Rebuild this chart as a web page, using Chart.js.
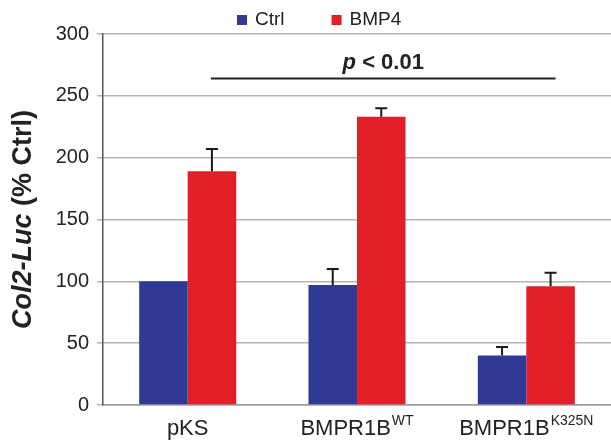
<!DOCTYPE html>
<html>
<head>
<meta charset="utf-8">
<script src="https://cdn.jsdelivr.net/npm/chart.js@4.4.1/dist/chart.umd.min.js"></script>
<style>
  html, body { margin: 0; padding: 0; background: #fff; }
  #wrap { width: 611px; height: 441px; position: relative; }
</style>
</head>
<body>
<div id="wrap"><canvas id="luc"></canvas></div>
<script>
// values (% of pKS control)
const groups = ['pKS', 'BMPR1B', 'BMPR1B'];
const groupSup = ['', 'WT', 'K325N'];
const ctrl = [100, 97, 40];
const ctrlErr = [0, 13, 7];
const bmp4 = [189, 233, 96];
const bmp4Err = [18, 7, 11];
const yTicks = [0, 50, 100, 150, 200, 250, 300];
const pLevel = 264;   // bracket height
const pTextLevel = 277;

const FONT = '"Liberation Sans", Arial, sans-serif';
const BLUE = '#303996', RED = '#e11f27';

// error bars (upper whisker only, like the original)
const errorBars = {
  id: 'errorBars',
  afterDatasetsDraw(chart) {
    const ctx = chart.ctx, y = chart.scales.y;
    [ctrlErr, bmp4Err].forEach((errs, di) => {
      const vals = chart.data.datasets[di].data;
      chart.getDatasetMeta(di).data.forEach((bar, i) => {
        if (!errs[i]) return;
        const top = y.getPixelForValue(vals[i] + errs[i]);
        ctx.save();
        ctx.strokeStyle = '#1a1a1a';
        ctx.lineWidth = 2;
        ctx.beginPath();
        ctx.moveTo(bar.x, bar.y);
        ctx.lineTo(bar.x, top);
        ctx.moveTo(bar.x - 6, top);
        ctx.lineTo(bar.x + 6, top);
        ctx.stroke();
        ctx.restore();
      });
    });
  }
};

// p < 0.01 bracket across the BMP4 bars
const pBracket = {
  id: 'pBracket',
  afterDatasetsDraw(chart) {
    const ctx = chart.ctx, y = chart.scales.y;
    const bars = chart.getDatasetMeta(1).data;
    const x0 = bars[0].x - 1, x1 = bars[2].x + 5;
    const ly = y.getPixelForValue(pLevel);
    ctx.save();
    ctx.strokeStyle = '#222';
    ctx.lineWidth = 2;
    ctx.beginPath();
    ctx.moveTo(x0, ly);
    ctx.lineTo(x1, ly);
    ctx.stroke();
    const ty = y.getPixelForValue(pTextLevel);
    ctx.fillStyle = '#222';
    ctx.textBaseline = 'middle';
    ctx.font = 'italic bold 22px ' + FONT;
    const wp = ctx.measureText('p').width;
    ctx.font = 'bold 22px ' + FONT;
    const rest = ' < 0.01';
    const wr = ctx.measureText(rest).width;
    let tx = (x0 + x1) / 2 - (wp + wr) / 2;
    ctx.textAlign = 'left';
    ctx.font = 'italic bold 22px ' + FONT;
    ctx.fillText('p', tx, ty);
    ctx.font = 'bold 22px ' + FONT;
    ctx.fillText(rest, tx + wp, ty);
    ctx.restore();
  }
};

// category labels with superscripts
const xLabels = {
  id: 'xLabels',
  afterDraw(chart) {
    const ctx = chart.ctx, xs = chart.scales.x;
    const ty = chart.chartArea.bottom + 24;
    ctx.save();
    ctx.fillStyle = '#222';
    ctx.textBaseline = 'middle';
    ctx.textAlign = 'left';
    groups.forEach((g, i) => {
      const cx = xs.getPixelForTick(i);
      ctx.font = '22px ' + FONT;
      const wm = ctx.measureText(g).width;
      ctx.font = '14px ' + FONT;
      const ws = groupSup[i] ? ctx.measureText(groupSup[i]).width + 1 : 0;
      const sx = cx - (wm + ws) / 2;
      ctx.font = '22px ' + FONT;
      ctx.fillText(g, sx, ty);
      if (groupSup[i]) {
        ctx.font = '14px ' + FONT;
        ctx.fillText(groupSup[i], sx + wm + 1, ty - 8);
      }
    });
    ctx.restore();
  }
};

// rotated y title, "Col2-Luc" in italics
const yTitle = {
  id: 'yTitle',
  afterDraw(chart) {
    const ctx = chart.ctx, a = chart.chartArea;
    const partA = 'Col2-Luc', partB = ' (% Ctrl)';
    ctx.save();
    ctx.translate(24, (a.top + a.bottom) / 2);
    ctx.rotate(-Math.PI / 2);
    ctx.fillStyle = '#222';
    ctx.textBaseline = 'middle';
    ctx.textAlign = 'left';
    ctx.font = 'italic bold 27px ' + FONT;
    const wa = ctx.measureText(partA).width;
    ctx.font = 'bold 27px ' + FONT;
    const wb = ctx.measureText(partB).width;
    const sx = -(wa + wb) / 2;
    ctx.font = 'italic bold 27px ' + FONT;
    ctx.fillText(partA, sx, 0);
    ctx.font = 'bold 27px ' + FONT;
    ctx.fillText(partB, sx + wa, 0);
    ctx.restore();
  }
};

// legend drawn from the datasets, spaced like the original
const topLegend = {
  id: 'topLegend',
  afterDraw(chart) {
    const ctx = chart.ctx;
    let x = 237;
    const y = 20;
    ctx.save();
    ctx.font = '19px ' + FONT;
    ctx.textBaseline = 'middle';
    ctx.textAlign = 'left';
    chart.data.datasets.forEach(ds => {
      ctx.fillStyle = ds.backgroundColor;
      ctx.fillRect(x, y - 5, 10, 10);
      ctx.fillStyle = '#222';
      ctx.fillText(ds.label, x + 18, y);
      x += 18 + ctx.measureText(ds.label).width + 47;
    });
    ctx.restore();
  }
};

new Chart(document.getElementById('luc'), {
  type: 'bar',
  data: {
    labels: groups,
    datasets: [
      { label: 'Ctrl', data: ctrl, backgroundColor: BLUE },
      { label: 'BMP4', data: bmp4, backgroundColor: RED }
    ]
  },
  options: {
    responsive: true,
    maintainAspectRatio: false,
    animation: false,
    layout: { padding: { top: 34, right: -4, bottom: 0, left: 0 } },
    datasets: { bar: { categoryPercentage: 0.573, barPercentage: 1 } },
    plugins: { legend: { display: false }, tooltip: { enabled: false } },
    scales: {
      x: {
        grid: { display: false },
        border: { color: '#999', width: 1.5 },
        ticks: { display: false },
        afterFit(s) { s.height = 36; }
      },
      y: {
        min: 0, max: 300,
        afterBuildTicks(s) { s.ticks = yTicks.map(v => ({ value: v })); },
        grid: { color: '#b5b5b5', lineWidth: 1.5, tickLength: 6 },
        border: { color: '#555', width: 1.5 },
        ticks: { font: { family: FONT, size: 20 }, color: '#222', padding: 8 },
        afterFit(s) { s.width = 103; }
      }
    }
  },
  plugins: [errorBars, pBracket, xLabels, yTitle, topLegend]
});
</script>
</body>
</html>
